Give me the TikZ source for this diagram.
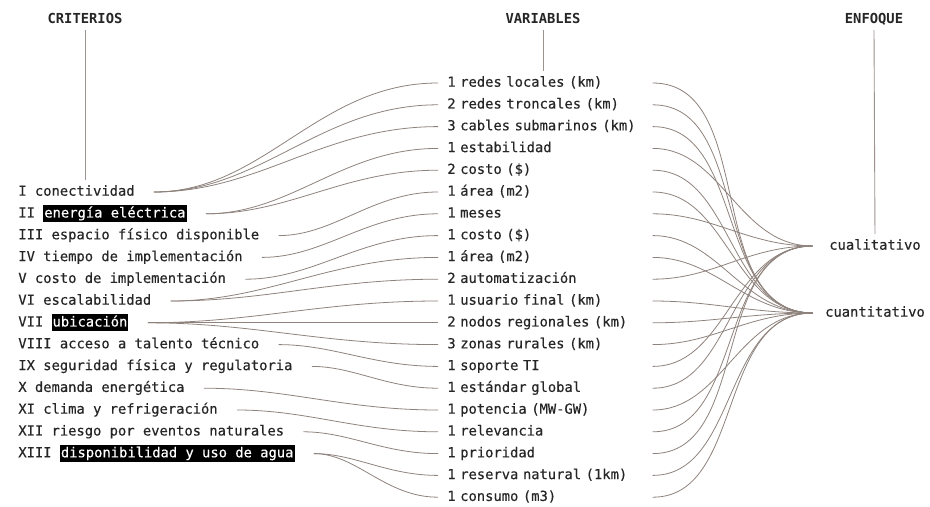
\documentclass[tikz,border=0pt]{standalone}
\usepackage{fontspec}
\newfontfamily\bodymono{DejaVu Sans Mono}[FakeBold=0.35]
\newfontfamily\headmono{DejaVu Sans Mono Bold}
\usepackage{xcolor}
\usepackage{tikz}
\usetikzlibrary{positioning, calc}
\definecolor{inkgray}{HTML}{262626}
\definecolor{linkgray}{HTML}{8E827C}
\definecolor{rulegray}{HTML}{9C928E}

%% black highlight behind part of a criterion
\newcommand{\hlword}[1]{{\setlength{\fboxsep}{0pt}\colorbox{black}{\rule[-2.55pt]{0pt}{9.65pt}\hspace{0.6pt}\textcolor{white}{#1}\hspace{0.6pt}}}}

\begin{document}
\begin{tikzpicture}[x=0.2mm, y=-0.2mm,
  txt/.style={font=\bodymono\fontsize{7.85}{9}\selectfont, text=inkgray,
              inner sep=0pt, text height=6pt, text depth=1.8pt},
  head/.style={txt, font=\headmono\fontsize{7.85}{9}\selectfont},
  crit/.style={txt, anchor=west},
  var/.style={txt, anchor=west, text width=40mm, align=left},
  enf/.style={txt, minimum width=24.8mm, align=center},
  link/.style={draw=linkgray, line width=0.45pt},
  critlink/.style={link, shorten <=3.8mm, shorten >=1.8mm},
  enflink/.style={link, shorten <=1mm},
  headrule/.style={draw=rulegray, line width=0.5pt, shorten <=0.6mm, shorten >=1mm}]

  \fill[white] (0,0) rectangle (930,507);
  \useasboundingbox (0,0) rectangle (930,507);

  %% column heads
  \node[head] (hcrit) at (85,20) {CRITERIOS};
  \node[head] (hvar)  at (543,20) {VARIABLES};
  \node[head] (henf)  at (874,20) {ENFOQUE};

  %% criteria (rows line up with variables 6..18)
  \foreach \num/\lbl in {1/{I conectividad},
      2/{II \hlword{energía eléctrica}},
      3/{III espacio físico disponible},
      4/{IV tiempo de implementación},
      5/{V costo de implementación},
      6/{VI escalabilidad},
      7/{VII \hlword{ubicación}},
      8/{VIII acceso a talento técnico},
      9/{IX seguridad física y regulatoria},
      10/{X demanda energética},
      11/{XI clima y refrigeración},
      12/{XII riesgo por eventos naturales},
      13/{XIII \hlword{disponibilidad y uso de agua}}} {
    \node[crit] (c\num) at (18, {83+(\num+4)*21.8}) {\lbl};
  }

  %% variables
  \foreach \num/\lbl in {1/{1 redes locales (km)},
      2/{2 redes troncales (km)},
      3/{3 cables submarinos (km)},
      4/{1 estabilidad},
      5/{2 costo (\$)},
      6/{1 área (m2)},
      7/{1 meses},
      8/{1 costo (\$)},
      9/{1 área (m2)},
      10/{2 automatización},
      11/{1 usuario final (km)},
      12/{2 nodos regionales (km)},
      13/{3 zonas rurales (km)},
      14/{1 soporte TI},
      15/{1 estándar global},
      16/{1 potencia (MW-GW)},
      17/{1 relevancia},
      18/{1 prioridad},
      19/{1 reserva natural (1km)},
      20/{1 consumo (m3)}} {
    \node[var] (v\num) at (447, {83+(\num-1)*21.8}) {\lbl};
  }

  %% approaches
  \node[enf] (e1) at (875,246) {cualitativo};
  \node[enf] (e2) at (875,313) {cuantitativo};

  %% head rules
  \draw[headrule] (hcrit.south) -- (hcrit.south |- c1.north);
  \draw[headrule] (hvar.south) -- (hvar.south |- v1.north);
  \draw[headrule] (henf.south) -- (e1.north);

  %% criteria -> variables
  \foreach \c/\v in {1/1, 1/2, 1/3, 2/4, 2/5, 3/6, 4/7, 5/8, 6/9, 6/10,
                     7/11, 7/12, 7/13, 8/14, 9/15, 10/16, 11/17, 12/18,
                     13/19, 13/20}
    \draw[critlink] (c\c.east) to[out=0, in=180] (v\v.west);

  %% variables -> approach (1 = cualitativo, 2 = cuantitativo)
  \foreach \v/\e in {1/2, 2/2, 3/2, 4/1, 5/2, 6/2, 7/1, 8/2, 9/2, 10/1,
                     11/2, 12/2, 13/2, 14/1, 15/1, 16/2, 17/1, 18/1,
                     19/2, 20/2}
    \draw[enflink] (v\v.east) to[out=0, in=180] (e\e.west);

\end{tikzpicture}
\end{document}
